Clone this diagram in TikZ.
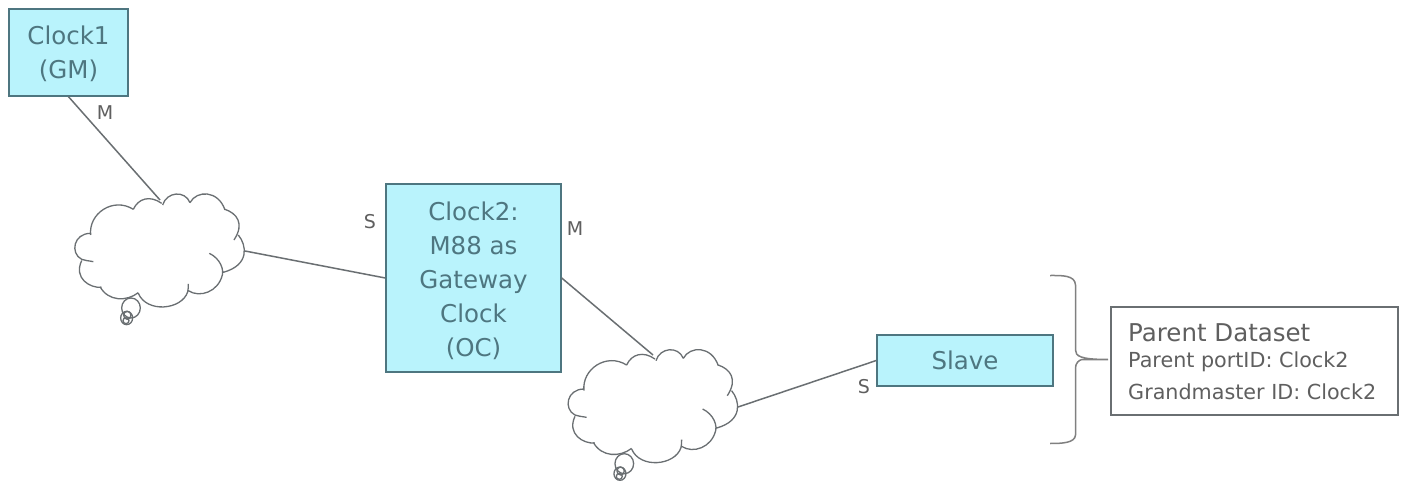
\documentclass[tikz,border=0pt]{standalone}
\usepackage{fontspec}
\setmainfont{DejaVu Sans}
\definecolor{ink}{HTML}{5F5F5F}
\definecolor{boxink}{HTML}{4E7680}
\definecolor{edge}{HTML}{6A6F72}
\definecolor{boxfill}{HTML}{B9F3FC}
\tikzset{
  clockbox/.style={draw=boxink,line width=1.4pt,fill=boxfill,text=boxink,align=center,inner sep=0pt,font=\fontsize{24.5}{34}\selectfont},
  conn/.style={draw=edge,line width=1.5pt},
  port/.style={text=ink,inner sep=0pt,font=\fontsize{19}{20}\selectfont},
  cloudline/.style={draw=edge,line width=1.3pt}
}
\newcommand{\cloudshape}[2]{%
\begin{scope}[shift={(#1,#2)},x=0.3333pt,y=-0.3333pt,cloudline]
\draw (250,118) .. controls (265,85) and (300,75) .. (335,100)
 (338,105) .. controls (350,65) and (405,60) .. (420,98)
 (420,98) .. controls (440,60) and (505,60) .. (525,120)
 (525,118) .. controls (560,130) and (585,160) .. (552,210)
 (565,195) .. controls (590,225) and (600,285) .. (520,307)
 (478,250) .. controls (510,265) and (525,300) .. (515,322)
 (517,315) .. controls (505,365) and (450,385) .. (415,362)
 (415,342) .. controls (415,350) and (415,358) .. (413,366)
 (413,366) .. controls (395,420) and (290,430) .. (265,370)
 (265,368) .. controls (230,395) and (175,395) .. (150,350)
 (155,352) .. controls (120,355) and (70,325) .. (95,272)
 (130,275) .. controls (115,272) and (105,272) .. (95,268)
 (95,268) .. controls (60,250) and (70,190) .. (122,190)
 (122,195) .. controls (115,130) and (190,80) .. (250,118);
\draw (243,414) ellipse [x radius=28,y radius=30];
\draw (230,444) ellipse [x radius=18,y radius=20];
\draw (232,436) ellipse [x radius=11,y radius=12];
\draw (228,452) ellipse [x radius=9,y radius=9];
\end{scope}}
\begin{document}
\begin{tikzpicture}[x=1pt,y=-1pt]
\useasboundingbox (0,0) rectangle (1408,481);
\fill[white] (0,0) rectangle (1408,481);
\node[clockbox,minimum width=119pt,minimum height=87pt] (clock1) at (68.5,52.5) {\rule{0pt}{22pt}Clock1\\(GM)};
\node[clockbox,minimum width=175pt,minimum height=188pt] (clock2) at (473.5,278) {\rule{0pt}{25pt}Clock2:\\M88 as\\Gateway\\Clock\\(OC)};
\node[clockbox,minimum width=176pt,minimum height=51pt] (slave) at (965,360.5) {Slave};
\node[draw=edge,line width=1.4pt,fill=white,text=ink,minimum width=287pt,minimum height=108pt,inner sep=0pt] (dataset) at (1254.5,361) {};
\node[text=ink,anchor=west,inner sep=0pt,font=\fontsize{24.5}{26}\selectfont] (dtitle) at (1128,333) {Parent Dataset};
\node[text=ink,anchor=west,inner sep=0pt,font=\fontsize{20.7}{22}\selectfont] (dport) at (1128,362) {Parent portID: Clock2};
\node[text=ink,anchor=west,inner sep=0pt,font=\fontsize{20.7}{22}\selectfont] (dgm) at (1128,391.5) {Grandmaster ID: Clock2};
\cloudshape{50}{170}
\cloudshape{543.3}{325.7}
\coordinate (c1top) at (160,200);
\coordinate (c1right) at (245,251);
\coordinate (c2top) at (653,355);
\coordinate (c2right) at (738,407);
\coordinate (bracetip) at (1108,359.5);
\draw[conn] (clock1.south) -- (c1top);
\draw[conn] (c1right) -- (clock2.west);
\draw[conn] (clock2.east) -- (c2top);
\draw[conn] (c2right) -- (slave.west);
\draw[conn,draw=gray] (1050,275.5) .. controls (1062,275.5) and (1075,275) .. (1075.5,285)
 -- (1075.5,350) .. controls (1075.5,356) and (1080,359.5) .. (bracetip)
 (bracetip) -- (1082,359.5) .. controls (1079,360) and (1075.5,363) .. (1075.5,368)
 -- (1075.5,435) .. controls (1075,443) and (1062,443.5) .. (1050,443.5);
\node[port] (m1) at (105,113) {M};
\node[port] (s1) at (370,222) {S};
\node[port] (m2) at (575,229) {M};
\node[port] (s2) at (864,387) {S};
\end{tikzpicture}
\end{document}
